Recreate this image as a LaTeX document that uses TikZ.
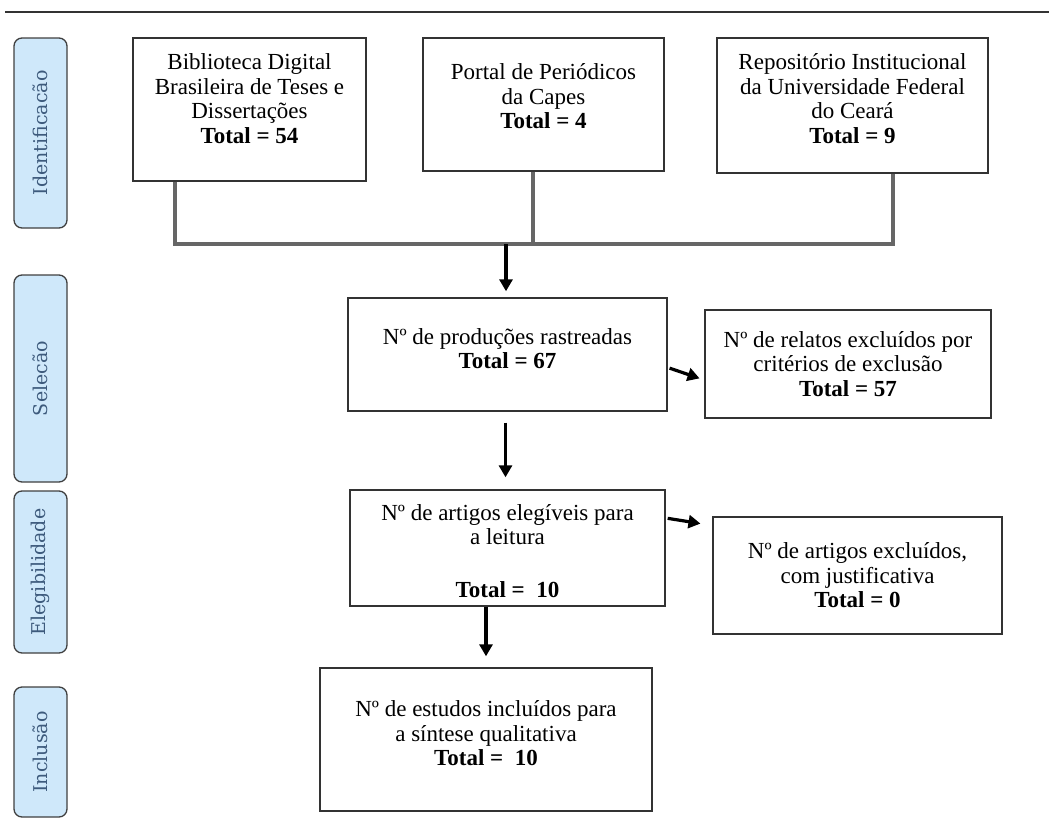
\documentclass[tikz,border=0pt]{standalone}
\usepackage{fontspec}
\setmainfont{Liberation Serif}
\newfontfamily\slabfont{DejaVu Serif}
\usetikzlibrary{positioning,arrows.meta}
\definecolor{phaseblue}{HTML}{CFE8FA}
\definecolor{phasetext}{HTML}{3D5A7C}
% raise the lines of a box without changing its size
\newcommand{\liftup}[2]{\raisebox{#1}[\height][\depth]{\begin{tabular}{@{}c@{}}#2\end{tabular}}}

\begin{document}
\begin{tikzpicture}[x=1pt,y=-1pt,>={Triangle[length=12pt,width=13pt]},
    box/.style={draw=black!80,line width=1.4pt,fill=white,align=center,
      inner sep=0pt,font=\fontsize{23}{24.5}\selectfont},
    phase/.style={draw=black!75,line width=1.3pt,fill=phaseblue,rounded corners=8pt,
      rotate=90,inner sep=0pt,minimum height=53pt,text=phasetext,
      font=\slabfont\fontsize{19}{22}\selectfont},
    link/.style={draw=black!60,line width=3.2pt},
    flow/.style={->,line width=3.2pt}]
  \useasboundingbox (0,0) rectangle (1049,819);
  \draw[black!80,line width=1.5pt] (5,12) -- (1049,12);

  % phases
  \node[phase,minimum width=190pt] (ident) at (40.5,133) {Identificacão};
  \node[phase,minimum width=207pt] (selec) at (40.5,378.5) {Selecão};
  \node[phase,minimum width=162pt] (elegi) at (40.5,572) {Elegibilidade};
  \node[phase,minimum width=130pt] (inclu) at (40.5,752) {Inclusão};

  % sources
  \node[box,minimum width=233pt,minimum height=143pt] (bdtd) at (249.5,109.5)
    {\liftup{8pt}{Biblioteca Digital\\Brasileira de Teses e\\Dissertações\\\textbf{Total = 54}}};
  \node[box,minimum width=241pt,minimum height=133pt] (portal) at (543.5,104.5)
    {\liftup{5pt}{Portal de Periódicos\\da Capes\\\textbf{Total = 4}}};
  \node[box,minimum width=271pt,minimum height=135pt] (repo) at (852.5,105.5)
    {\liftup{4pt}{Repositório Institucional\\da Universidade Federal\\do Ceará\\\textbf{Total = 9}}};

  % flow
  \node[box,minimum width=319pt,minimum height=113pt] (prod) at (507.5,354.5)
    {\liftup{3pt}{Nº de produções rastreadas\\\textbf{Total = 67}}};
  \node[box,minimum width=286pt,minimum height=108pt] (excl1) at (848,364)
    {Nº de relatos excluídos por\\critérios de exclusão\\\textbf{Total = 57}};
  \node[box,minimum width=315pt,minimum height=116pt] (eleg) at (507.5,548)
    {\liftup{-6pt}{Nº de artigos elegíveis para\\a leitura\\[28pt]\textbf{Total =\ \ 10}}};
  \node[box,minimum width=289pt,minimum height=117pt] (excl2) at (857.5,575.5)
    {Nº de artigos excluídos,\\com justificativa\\\textbf{Total = 0}};
  \node[box,minimum width=332pt,minimum height=143pt] (incl) at (486,739.5)
    {\liftup{3pt}{Nº de estudos incluídos para\\a síntese qualitativa\\\textbf{Total =\ \ 10}}};

  \coordinate (hub) at (506,244);
  \draw[link] ([xshift=-74.5pt]bdtd.south) |- ([xshift=40.5pt]repo.south |- hub)
    -- ([xshift=40.5pt]repo.south);
  \draw[link] ([xshift=-10.5pt]portal.south) -- ([xshift=-10.5pt]portal.south |- hub);

  \draw[flow,shorten >=6pt] (hub) -- (hub |- prod.north);
  \draw[flow,shorten <=11pt,shorten >=12pt] ([xshift=-2pt]prod.south) -- ([xshift=-2pt]eleg.north);
  \draw[flow,shorten >=11pt] (incl.north |- eleg.south) -- (incl.north);
  \draw[flow,shorten <=2pt,shorten >=5pt] ([yshift=-13pt]prod.east) -- ([yshift=-16pt]excl1.west);
  \draw[flow,shorten <=2pt,shorten >=12pt] ([yshift=30pt]eleg.east) -- ([yshift=50pt]excl2.west);
\end{tikzpicture}
\end{document}
